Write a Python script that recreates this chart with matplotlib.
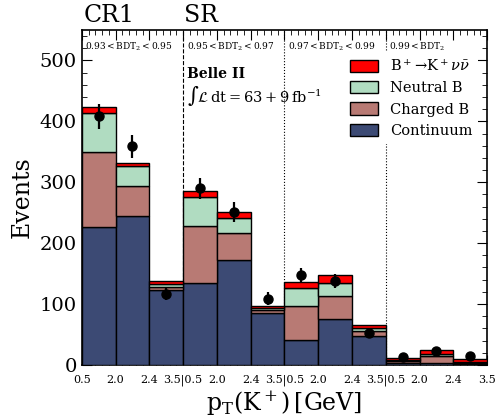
import matplotlib
matplotlib.use("Agg")
import matplotlib.pyplot as plt
import numpy as np
from matplotlib.ticker import MultipleLocator, FixedLocator

plt.rcParams['font.family'] = ['DejaVu Serif']
plt.rcParams['mathtext.fontset'] = 'dejavuserif'

# 12 bins: 4 BDT2 regions x 3 pT(K+) bins
continuum = [227, 245, 123, 134, 173, 86, 41, 75, 48, 3, 3, 1]
charged_b = [123, 48, 5, 94, 44, 4, 56, 38, 8, 3, 11, 2]
neutral_b = [63, 33, 5, 48, 25, 4, 29, 22, 5, 2, 4, 1]
signal = [11, 6, 4, 10, 9, 3.5, 10, 13, 4, 4, 6, 5]
data = [408, 359, 117, 290, 251, 109, 147, 138, 52, 13, 22, 14]

region_labels = [r"$0.93 < \mathrm{BDT}_2 < 0.95$", r"$0.95 < \mathrm{BDT}_2 < 0.97$",
                 r"$0.97 < \mathrm{BDT}_2 < 0.99$", r"$0.99 < \mathrm{BDT}_2$"]
tick_labels = ["0.5", "2.0", "2.4", "3.5|0.5", "2.0", "2.4", "3.5|0.5", "2.0", "2.4",
               "3.5|0.5", "2.0", "2.4", "3.5"]

colors = {"signal": "#ff0000", "neutral": "#b0dcc1", "charged": "#b87a74", "cont": "#3c4a74"}

fig = plt.figure(figsize=(4.96, 4.17), dpi=100)
ax = fig.add_axes([0.165, 0.125, 0.817, 0.803])

x = np.arange(len(data))
bottom = np.zeros(len(data))
stack = [(continuum, colors["cont"], "Continuum"),
         (charged_b, colors["charged"], "Charged B"),
         (neutral_b, colors["neutral"], "Neutral B"),
         (signal, colors["signal"], r"$\mathrm{B}^+\!\to\!\mathrm{K}^+\nu\bar{\nu}$")]
handles = []
for vals, col, lab in stack:
    vals = np.array(vals, dtype=float)
    b = ax.bar(x, vals, width=1, bottom=bottom, align='edge', color=col,
               edgecolor='black', linewidth=1.0, label=lab, zorder=3)
    handles.append(b)
    bottom += vals

ax.errorbar(x + 0.5, data, yerr=np.sqrt(data), fmt='o', color='black',
            markersize=6.5, elinewidth=1.6, capsize=0, zorder=5)

# region separators
ax.axvline(3, color='black', linestyle='--', linewidth=0.8, zorder=1)
ax.axvline(6, color='black', linestyle=':', linewidth=0.8, zorder=1)
ax.axvline(9, color='black', linestyle=':', linewidth=0.8, zorder=1)

for i, lab in enumerate(region_labels):
    ax.text(3 * i + 0.1, 0.97, lab, transform=ax.get_xaxis_transform(),
            fontsize=6.5, va='top', ha='left')

ax.text(0.005, 1.01, "CR1", transform=ax.transAxes, fontsize=17, va='bottom')
ax.text(0.252, 1.01, "SR", transform=ax.transAxes, fontsize=17, va='bottom')

ax.text(3.1, 0.87, "Belle II", transform=ax.get_xaxis_transform(),
        fontsize=10, fontweight='bold', va='center')
ax.text(3.1, 0.805, r"$\int\mathcal{L}\,\mathrm{dt} = 63 + 9\,\mathrm{fb}^{-1}$",
        transform=ax.get_xaxis_transform(), fontsize=10.5, va='center')

leg = ax.legend(handles=handles[::-1], loc='upper right', bbox_to_anchor=(0.985, 0.945),
                fontsize=10.5, frameon=True, framealpha=1, edgecolor='none',
                facecolor='white', handlelength=1.9, handleheight=0.9,
                labelspacing=0.5, borderaxespad=0.2)
leg.set_zorder(4)

ax.set_xlim(0, 12)
ax.set_ylim(0, 550)
ax.xaxis.set_major_locator(FixedLocator(range(13)))
ax.set_xticklabels(tick_labels, fontsize=8)
ax.xaxis.set_minor_locator(MultipleLocator(0.2))
ax.yaxis.set_major_locator(MultipleLocator(100))
ax.yaxis.set_minor_locator(MultipleLocator(20))
ax.tick_params(axis='y', labelsize=14)
ax.tick_params(axis='x', pad=7)
ax.tick_params(which='both', direction='in', top=True, right=True)
ax.tick_params(which='major', length=7)
ax.tick_params(which='minor', length=3.5)
for s in ax.spines.values():
    s.set_linewidth(1.2)

ax.set_ylabel("Events", fontsize=17)
ax.set_xlabel(r"$\mathrm{p_T(K^+)\,[GeV]}$", fontsize=17, labelpad=2)

fig.savefig("out.png", dpi=100)
